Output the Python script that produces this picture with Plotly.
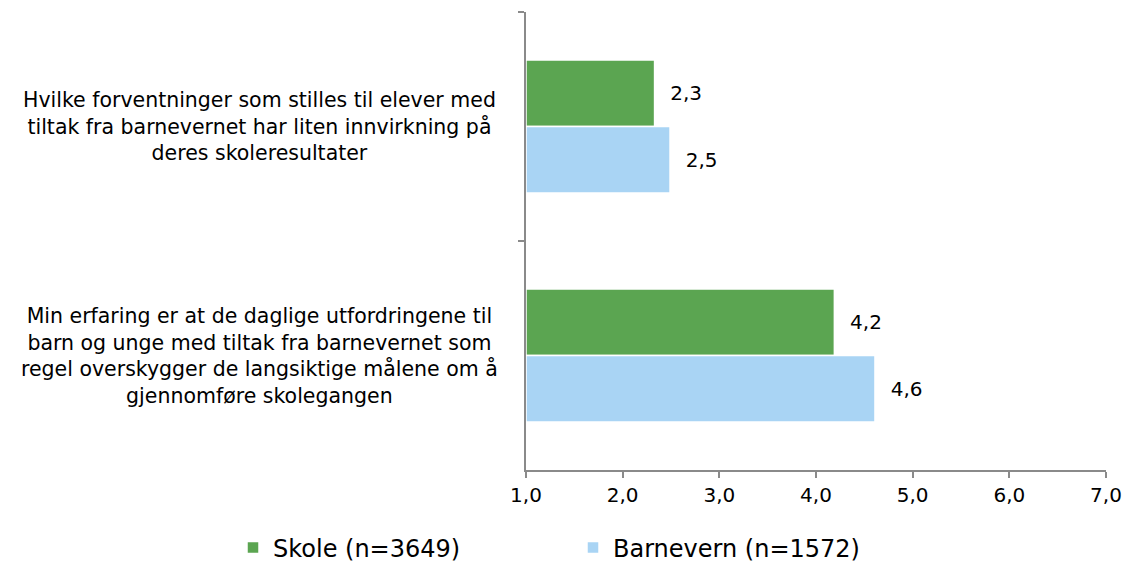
import plotly.graph_objects as go

categories = [
    "Hvilke forventninger som stilles til elever med<br>tiltak fra barnevernet har liten innvirkning på<br>deres skoleresultater",
    "Min erfaring er at de daglige utfordringene til<br>barn og unge med tiltak fra barnevernet som<br>regel overskygger de langsiktige målene om å<br>gjennomføre skolegangen",
]
cat_keys = ["q1", "q2"]
skole = [2.33, 4.19]
barnevern = [2.49, 4.61]
series_names = ["Skole (n=3649)", "Barnevern (n=1572)"]
colors = ["#5BA551", "#A9D4F4"]
x_ticks = [1, 2, 3, 4, 5, 6, 7]

FONT = "Verdana, DejaVu Sans, sans-serif"
W, H = 1130, 555  # page body has an 8px margin

fig = go.Figure()
for i, (name, vals, col) in enumerate(zip(series_names, [skole, barnevern], colors)):
    fig.add_trace(go.Bar(
        y=cat_keys, x=[v - 1 for v in vals], base=1, orientation="h",
        name=name, legend="legend" if i == 0 else "legend2",
        marker=dict(color=col, line=dict(color="white", width=1.5)),
        text=[("\u00a0\u00a0" + f"{v:.1f}".replace(".", ",")) for v in vals],
        textposition="outside", textfont=dict(size=20, color="black", family=FONT),
        cliponaxis=False,
    ))

for key, label in zip(cat_keys, categories):
    fig.add_annotation(
        x=(259 - 526) / 580, xref="paper", y=key, yref="y", text=label, showarrow=False,
        xanchor="center", yanchor="middle", align="center",
        font=dict(size=20.5, color="black", family=FONT),
    )

leg_common = dict(
    orientation="h", xref="container", yref="container",
    xanchor="left", yanchor="middle",
    font=dict(size=24, family=FONT, color="black"),
    bgcolor="rgba(0,0,0,0)",
)

fig.update_layout(
    width=W, height=H,
    margin=dict(l=518, r=32, t=4, b=93),
    plot_bgcolor="white", paper_bgcolor="white",
    barmode="group", bargap=0.42, bargroupgap=0.0,
    separators=", ",
    font=dict(family=FONT, size=20, color="black"),
    showlegend=True,
    legend=dict(x=(253 - 8 - 20) / W, y=(H - 540) / H, **leg_common),
    legend2=dict(x=(593 - 8 - 20) / W, y=(H - 540) / H, **leg_common),
    xaxis=dict(
        range=[1, 7], tickvals=x_ticks, tickformat=".1f", showgrid=False,
        showline=True, linecolor="#8a8a8a", linewidth=1.5, ticks="outside",
        ticklen=6, tickcolor="#8a8a8a", tickwidth=1.5, zeroline=False,
        tickfont=dict(size=20, color="black", family=FONT),
    ),
    yaxis=dict(
        categoryorder="array", categoryarray=cat_keys, range=[1.5, -0.5],
        showline=True, linecolor="#8a8a8a", linewidth=1.5, ticks="outside",
        tickson="boundaries", ticklen=6, tickcolor="#8a8a8a", tickwidth=1.5,
        showticklabels=False, showgrid=False, zeroline=False,
    ),
)

fig.write_html("out.html")
